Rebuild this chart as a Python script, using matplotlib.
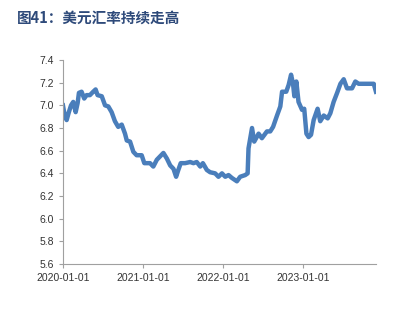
import pandas as pd
import matplotlib
matplotlib.use("Agg")
from matplotlib import pyplot as plt

plt.rcParams['font.family'] = ['Liberation Sans', 'Noto Sans CJK SC', 'DejaVu Sans']

# USD/CNY
dates = ['2020-01-01', '2020-01-10', '2020-01-18', '2020-01-28', '2020-02-07', '2020-02-17',
         '2020-02-28', '2020-03-08', '2020-03-14', '2020-03-26', '2020-04-07', '2020-04-18',
         '2020-05-03', '2020-05-18', '2020-05-29', '2020-06-07', '2020-06-26', '2020-07-11',
         '2020-07-26', '2020-08-10', '2020-08-25', '2020-09-09', '2020-09-25', '2020-10-10',
         '2020-10-18', '2020-11-02', '2020-11-17', '2020-12-02', '2020-12-25', '2021-01-06',
         '2021-02-01', '2021-02-16', '2021-03-04', '2021-03-19', '2021-04-03', '2021-04-19',
         '2021-05-04', '2021-05-19', '2021-05-31', '2021-06-10', '2021-06-21', '2021-07-11',
         '2021-08-03', '2021-08-18', '2021-09-02', '2021-09-18', '2021-09-30', '2021-10-18',
         '2021-11-02', '2021-11-25', '2021-12-10', '2021-12-26', '2022-01-10', '2022-01-25',
         '2022-02-09', '2022-03-04', '2022-03-19', '2022-04-11', '2022-04-22', '2022-04-26',
         '2022-05-12', '2022-05-22', '2022-06-11', '2022-06-26', '2022-07-19', '2022-08-03',
         '2022-08-16', '2022-09-03', '2022-09-18', '2022-09-26', '2022-10-15', '2022-10-26',
         '2022-11-06', '2022-11-15', '2022-11-21', '2022-11-30', '2022-12-10', '2022-12-26',
         '2023-01-05', '2023-01-15', '2023-01-25', '2023-02-05', '2023-02-17', '2023-03-07',
         '2023-03-19', '2023-04-04', '2023-04-22', '2023-05-04', '2023-05-19', '2023-06-04',
         '2023-06-19', '2023-07-04', '2023-07-19', '2023-08-11', '2023-08-26', '2023-09-10',
         '2023-09-26', '2023-11-18', '2023-11-28']
usdcny = [7.00, 6.90, 6.87, 6.94, 7.00, 7.03,
          6.94, 7.02, 7.11, 7.12, 7.06, 7.09,
          7.09, 7.12, 7.14, 7.09, 7.08, 7.00,
          6.99, 6.94, 6.86, 6.81, 6.83, 6.75,
          6.69, 6.68, 6.59, 6.56, 6.56, 6.49,
          6.49, 6.46, 6.52, 6.55, 6.58, 6.53,
          6.47, 6.44, 6.37, 6.43, 6.49, 6.49,
          6.50, 6.49, 6.50, 6.46, 6.49, 6.43,
          6.41, 6.40, 6.37, 6.40, 6.37, 6.385,
          6.36, 6.33, 6.37, 6.385, 6.40, 6.62,
          6.80, 6.68, 6.75, 6.71, 6.77, 6.77,
          6.81, 6.91, 6.99, 7.12, 7.12, 7.18,
          7.27, 7.19, 7.08, 7.21, 7.03, 6.96,
          6.97, 6.75, 6.72, 6.74, 6.87, 6.97,
          6.86, 6.91, 6.885, 6.93, 7.03, 7.11,
          7.19, 7.23, 7.15, 7.15, 7.21, 7.19,
          7.19, 7.19, 7.12]
xticks = ['2020-01-01', '2021-01-01', '2022-01-01', '2023-01-01']

x = pd.to_datetime(dates)

fig = plt.figure(figsize=(4.06, 3.14), dpi=100)
ax = fig.add_axes([0.155, 0.159, 0.771, 0.650])
ax.plot(x, usdcny, color='#4a7ebb', linewidth=3.2, solid_joinstyle='round')

ax.set_ylim(5.6, 7.4)
ax.set_yticks([5.6 + 0.2 * i for i in range(10)])
ax.yaxis.set_major_formatter(plt.FormatStrFormatter('%.1f'))
ax.set_xlim(pd.Timestamp('2020-01-01'), pd.Timestamp('2023-11-28'))
ax.set_xticks(pd.to_datetime(xticks))
ax.set_xticklabels(xticks)

for s in ['top', 'right']:
    ax.spines[s].set_visible(False)
for s in ['left', 'bottom']:
    ax.spines[s].set_color('#a0a0a0')
    ax.spines[s].set_linewidth(0.8)
ax.tick_params(axis='both', colors='#a0a0a0', labelcolor='#333333', labelsize=7.5,
               direction='out', length=3, width=0.8)

fig.text(0.042, 0.943, '图41：美元汇率持续走高', fontsize=10.5, fontweight='bold',
         color='#2e4a7a', family=['Noto Sans CJK SC', 'DejaVu Sans'], va='center')

fig.savefig('out.png', dpi=100)
